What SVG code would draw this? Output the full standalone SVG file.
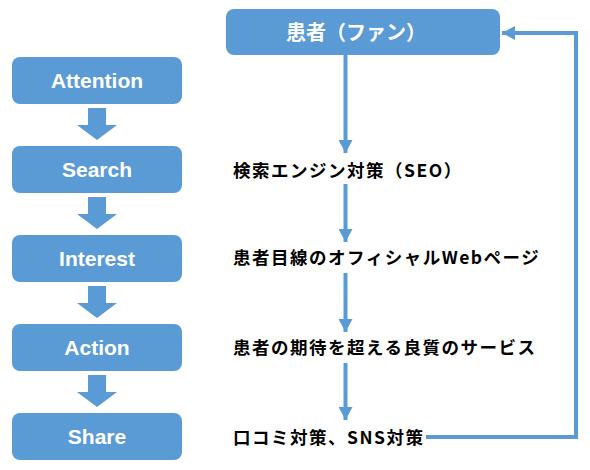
<svg xmlns="http://www.w3.org/2000/svg" xmlns:xlink="http://www.w3.org/1999/xlink" width="590" height="470" viewBox="0 0 590 470">
<style>
.box{fill:#5B9BD5;}
.lbl{font-family:"Liberation Sans",Arial,sans-serif;font-weight:bold;font-size:21px;fill:#fff;text-anchor:middle;}
.jp{font-family:"Noto Sans CJK JP",sans-serif;font-weight:bold;font-size:17.5px;letter-spacing:1.5px;fill:#000;}
.top{font-family:"Noto Sans CJK JP",sans-serif;font-weight:bold;font-size:20px;fill:#fff;}
.line{stroke:#5B9BD5;stroke-width:4;fill:none;}
.blk{fill:#5B9BD5;}
</style>
<defs>
<marker id="ah" markerUnits="userSpaceOnUse" markerWidth="14" markerHeight="14" refX="13" refY="7" orient="auto">
<path d="M0,0 L13,7 L0,14 z" fill="#5B9BD5"/>
</marker>
<polygon id="blockArrow" fill="#5B9BD5" points="88,0 106,0 106,17 117,17 97,32 77,17 88,17"/>
</defs>
<rect width="590" height="470" fill="#fff"/>
<g id="attention"><rect class="box" x="12" y="57" width="170" height="47" rx="8"/><text class="lbl" x="97" y="88">Attention</text></g>
<g id="search"><rect class="box" x="12" y="146" width="170" height="47" rx="8"/><text class="lbl" x="97" y="177">Search</text></g>
<g id="interest"><rect class="box" x="12" y="235" width="170" height="47" rx="8"/><text class="lbl" x="97" y="266">Interest</text></g>
<g id="action"><rect class="box" x="12" y="324" width="170" height="47" rx="8"/><text class="lbl" x="97" y="355">Action</text></g>
<g id="share"><rect class="box" x="12" y="413" width="170" height="47" rx="8"/><text class="lbl" x="97" y="444">Share</text></g>
<g id="patient"><rect class="box" x="226" y="9" width="274" height="46" rx="8"/><text class="top" x="286" y="40">患者（ファン）</text></g>
<g id="seo"><text class="jp" x="233" y="177">検索エンジン対策（SEO）</text></g>
<g id="web"><text class="jp" x="233" y="264">患者目線のオフィシャルWebページ</text></g>
<g id="service"><text class="jp" x="233" y="354">患者の期待を超える良質のサービス</text></g>
<g id="kuchikomi"><text class="jp" x="233" y="443.5">口コミ対策、SNS対策</text></g>
<g id="connectors">
<use class="blk" xlink:href="#blockArrow" href="#blockArrow" y="108"/>
<use class="blk" xlink:href="#blockArrow" href="#blockArrow" y="197"/>
<use class="blk" xlink:href="#blockArrow" href="#blockArrow" y="286"/>
<use class="blk" xlink:href="#blockArrow" href="#blockArrow" y="375"/>
<line class="line" x1="345.5" y1="55" x2="345.5" y2="153" marker-end="url(#ah)"/>
<line class="line" x1="345.5" y1="184" x2="345.5" y2="242" marker-end="url(#ah)"/>
<line class="line" x1="345.5" y1="273" x2="345.5" y2="332" marker-end="url(#ah)"/>
<line class="line" x1="345.5" y1="363" x2="345.5" y2="420" marker-end="url(#ah)"/>
<path class="line" d="M426,437 H576 V33 H502" marker-end="url(#ah)"/>
</g>
</svg>
